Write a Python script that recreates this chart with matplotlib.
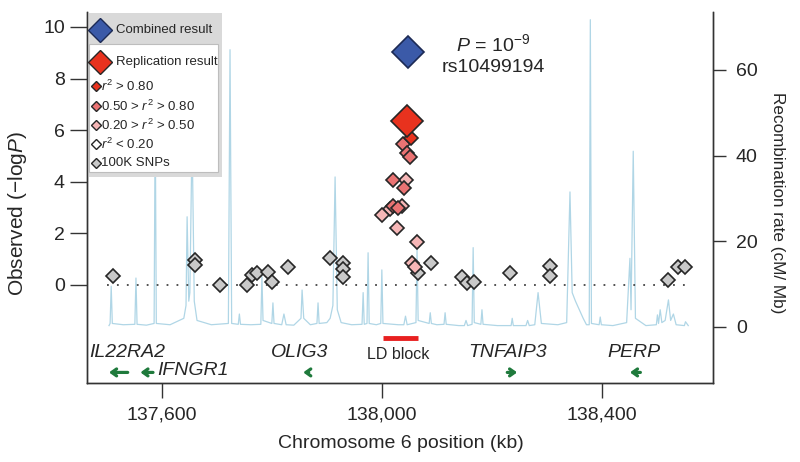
import matplotlib
matplotlib.use("Agg")
import matplotlib.pyplot as plt
from matplotlib.patches import Rectangle
from matplotlib.ticker import FuncFormatter

plt.rcParams["font.family"] = ["Liberation Sans", "DejaVu Sans"]
plt.rcParams["mathtext.fontset"] = "custom"
plt.rcParams["mathtext.rm"] = "Liberation Sans"
plt.rcParams["mathtext.it"] = "Liberation Sans:italic"

# --- association results (kb, -log P) ---
snp100k_kb = [137511, 137661, 137661, 137706, 137755, 137764, 137773, 137793, 137801,
              137830, 137906, 137930, 137930, 137930, 138066, 138090, 138146, 138155,
              138168, 138233, 138306, 138306, 138521, 138539, 138551]
snp100k_p = [0.35, 0.97, 0.78, 0.0, 0.0, 0.39, 0.47, 0.50, 0.12,
             0.70, 1.05, 0.86, 0.60, 0.30, 0.47, 0.86, 0.31, 0.08,
             0.12, 0.47, 0.74, 0.35, 0.20, 0.70, 0.70]

mid_kb = [138039, 138046, 138051, 138020, 138040, 138020, 138030]
mid_p = [5.45, 5.10, 4.95, 4.05, 3.75, 3.05, 3.00]

low_kb = [138044, 138015, 138037, 138000, 138028, 138064, 138055, 138060]
low_p = [4.05, 2.95, 3.05, 2.70, 2.20, 1.67, 0.86, 0.70]

high_kb = [138053]
high_p = [5.70]

replication_kb, replication_p = 138045, 6.35
combined_kb, combined_p = 138048, 9.03

# --- recombination rate (cM/Mb) ---
recomb_kb = [
    137504, 137506, 137508, 137510, 137530,
    137551, 137553, 137555, 137572,
    137586, 137588, 137590, 137615,
    137640, 137644, 137646, 137649, 137651, 137655, 137659, 137664, 137690,
    137721, 137724, 137727, 137739, 137741, 137743, 137762,
    137780, 137782, 137784, 137800, 137802, 137804, 137818, 137822, 137826, 137840,
    137853, 137855, 137858, 137870, 137882, 137884, 137886, 137900,
    137906, 137911, 137915, 137919, 137926, 137945,
    137964, 137966, 137968, 137973, 137975, 137977, 137990,
    137998, 138000, 138002, 138030, 138040, 138043, 138046,
    138062, 138064, 138066, 138086, 138088, 138090, 138100,
    138113, 138115, 138117, 138140, 138150, 138153, 138156,
    138164, 138166, 138168, 138180, 138182, 138184, 138210,
    138235, 138237, 138239, 138262, 138265, 138268,
    138278, 138284, 138290, 138320,
    138336, 138342, 138346, 138352, 138366, 138372,
    138377, 138379, 138381, 138395, 138397, 138399, 138420,
    138445, 138451, 138453, 138457, 138461, 138480,
    138499, 138501, 138503, 138506, 138509, 138515, 138521, 138525, 138530, 138535, 138550, 138552, 138557,
]
recomb_rate = [
    0.3, 0.8, 9.5, 0.8, 0.5,
    0.6, 11.4, 0.6, 0.4,
    0.8, 50, 0.8, 0.5,
    2, 5, 25.7, 6, 8, 45, 6, 1.5, 0.5,
    0.8, 64.7, 0.8, 0.6, 3, 0.6, 0.5,
    0.6, 11.7, 1.5, 0.8, 5.6, 0.8, 0.5, 3, 0.5, 0.4,
    2, 8.6, 2, 0.5, 0.8, 5.6, 0.8, 1,
    2, 5, 35, 4, 1, 0.5,
    0.6, 8, 0.6, 0.8, 17.3, 0.8, 0.5,
    0.8, 13.3, 0.8, 0.5, 0.5, 2.5, 0.5,
    1, 18, 1.5, 0.8, 3.3, 0.8, 0.5,
    0.6, 3.3, 0.6, 0.3, 0.3, 1.5, 0.3,
    0.6, 18.5, 1, 0.6, 4, 0.6, 0.3,
    0.3, 2, 0.3, 0.3, 1.5, 0.3,
    0.5, 8, 0.8, 0.5,
    1, 31.5, 8, 6, 2, 0.5,
    0.5, 71.7, 0.8, 0.5, 2.3, 0.5, 0.3,
    1, 16, 4, 41, 2, 0.3,
    0.5, 2.8, 0.8, 4, 1, 1.5, 6.3, 1.5, 3, 0.5, 0.3, 1.2, 0.3,
]

# --- genes ---
gene_names = ["IL22RA2", "IFNGR1", "OLIG3", "TNFAIP3", "PERP"]
gene_kb = [137538, 137657, 137851, 138228, 138459]
gene_y = [-2.6, -3.3, -2.6, -2.6, -2.6]
arrow_tail_kb = [137538, 137584, 137867, 138228, 138470]
arrow_head_kb = [137504, 137561, 137857, 138246, 138451]
ld_block_kb = [138002, 138066]

RED = "#e8321e"
MID = "#ea7373"
LOW = "#f6b6b6"
GRAY = "#c9c9c9"
BLUE = "#3b5aa8"
GREEN = "#1f7a3c"
RECOMB = "#b0d6e6"
EDGE = "#262626"
TXT = "#262626"

fig = plt.figure(figsize=(8, 4.62), dpi=100)
ax = fig.add_axes([87 / 800, 1 - 383 / 462, 626 / 800, 371 / 462])
ax2 = ax.twinx()
ax.set_zorder(ax2.get_zorder() + 1)
ax.patch.set_visible(False)

ax2.plot(recomb_kb, recomb_rate, color=RECOMB, linewidth=0.9)
ax2.set_ylim(-13.1, 73.5)
ax2.set_yticks([0, 20, 40, 60])

ax.set_xlim(137464, 138602)
ax.set_ylim(-3.8, 10.58)
ax.set_yticks([0, 2, 4, 6, 8, 10])
ax.set_xticks([137600, 138000, 138400])
ax.xaxis.set_major_formatter(FuncFormatter(lambda v, _: f"{int(v):,}"))

ax.plot([137500, 138557], [0, 0], color="#444444", linewidth=1.3, linestyle=(0, (1, 4.5)))

ms_small = 7.2
ax.plot(snp100k_kb, snp100k_p, "D", ms=ms_small, mfc=GRAY, mec=EDGE, mew=1.2, linestyle="none")
ax.plot(low_kb, low_p, "D", ms=ms_small, mfc=LOW, mec=EDGE, mew=1.2, linestyle="none")
ax.plot(mid_kb, mid_p, "D", ms=ms_small, mfc=MID, mec=EDGE, mew=1.2, linestyle="none")
ax.plot(high_kb, high_p, "D", ms=ms_small, mfc=RED, mec=EDGE, mew=1.2, linestyle="none")
ax.plot([replication_kb], [replication_p], "D", ms=16, mfc=RED, mec=EDGE, mew=1.2)
ax.plot([combined_kb], [combined_p], "D", ms=16, mfc=BLUE, mec="#1c2a55", mew=1.2)

ax.text(138203, 9.34, r"$P$ = 10$^{-9}$", fontsize=14, ha="center", va="center", color=TXT)
ax.text(138203, 8.44, "rs10499194", fontsize=14, ha="center", va="center", color=TXT)

for name, kb, y in zip(gene_names, gene_kb, gene_y):
    ax.text(kb, y, name, fontsize=14, style="italic", ha="center", va="center", color=TXT)
for tail, head in zip(arrow_tail_kb, arrow_head_kb):
    ax.annotate("", xy=(head, -3.39), xytext=(tail, -3.39),
                arrowprops=dict(arrowstyle="->,head_length=0.35,head_width=0.25",
                                color=GREEN, lw=2.3, shrinkA=0, shrinkB=0))
ax.plot(ld_block_kb, [-2.06, -2.06], color="#e82020", linewidth=3.5, solid_capstyle="butt")
ax.text(sum(ld_block_kb) / 2 - 4, -2.68, "LD block", fontsize=11.5, ha="center", va="center", color=TXT)

for a in (ax, ax2):
    a.spines["top"].set_visible(False)
    for s in a.spines.values():
        s.set_color("#333333")
        s.set_linewidth(1.0)
ax.tick_params(axis="y", length=12, width=1, pad=4, labelsize=14, colors="#333333", labelcolor=TXT)
ax.tick_params(axis="x", length=11, width=1, pad=6, labelsize=14, colors="#333333", labelcolor=TXT)
ax2.tick_params(axis="y", length=9.5, width=1, pad=7, labelsize=14, colors="#333333", labelcolor=TXT)

fig.text(18 / 800, 1 - 214 / 462, "Observed (\u2212log$P$)", rotation=90, fontsize=15,
         ha="center", va="center", color=TXT)
fig.text(778 / 800, 1 - 203 / 462, "Recombination rate (cM/ Mb)", rotation=270, fontsize=12.3,
         ha="center", va="center", color=TXT)
fig.text(401 / 800, 1 - 443 / 462, "Chromosome 6 position (kb)", fontsize=14,
         ha="center", va="center", color=TXT)

# --- legend panel (pixel coordinates) ---
lax = fig.add_axes([87 / 800, 1 - 177 / 462, 135 / 800, 164 / 462])
lax.set_xlim(87, 222)
lax.set_ylim(177, 13)
lax.axis("off")
lax.add_patch(Rectangle((87, 13), 135, 164, facecolor="#d9d9d9", edgecolor="none"))
lax.add_patch(Rectangle((89, 44), 129, 128, facecolor="white", edgecolor="#bdbdbd", linewidth=0.8))
lax.plot([100], [30], "D", ms=12.5, mfc=BLUE, mec="#1c2a55", mew=1)
lax.text(116, 30, "Combined result", fontsize=9.5, va="center", color=TXT)
lax.plot([100], [62], "D", ms=12.5, mfc=RED, mec=EDGE, mew=1)
lax.text(116, 62, "Replication result", fontsize=9.5, va="center", color=TXT)
legend_labels = [r"$r^2$ > 0.80", r"0.50 > $r^2$ > 0.80", r"0.20 > $r^2$ > 0.50",
                 r"$r^2$ < 0.20", "100K SNPs"]
legend_colors = [RED, MID, LOW, "white", GRAY]
legend_y = [86, 106, 125, 144, 163]
for label, color, y in zip(legend_labels, legend_colors, legend_y):
    lax.plot([96], [y], "D", ms=5.5, mfc=color, mec=EDGE, mew=1)
    lax.text(101, y, label, fontsize=9.5, va="center", color=TXT)

fig.savefig("out.png", dpi=100)
